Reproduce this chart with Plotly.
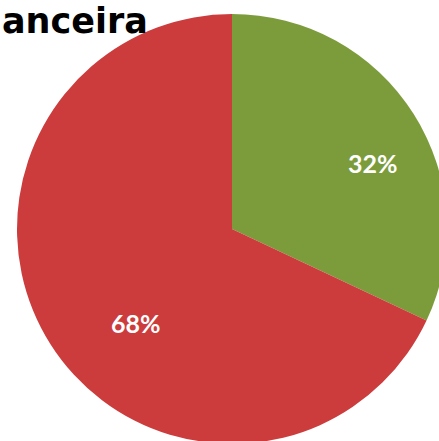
import plotly.graph_objects as go

labels = ["Sim", "Não"]
values = [32, 68]
colors = ["#7c9c3c", "#cc3c3c"]
title_text = "anceira"

fig = go.Figure(go.Pie(
    labels=labels,
    values=values,
    sort=False,
    direction="clockwise",
    rotation=0,
    marker=dict(colors=colors, line=dict(width=0)),
    textinfo="none",
    showlegend=False,
    hoverinfo="skip",
    domain=dict(x=[17 / 447, 1.0], y=[1 / 445, 1 - 14 / 445]),
))

total = sum(values)
label_pos = [(0.835, 0.634), (0.305, 0.274)]
for v, (px, py) in zip(values, label_pos):
    fig.add_annotation(
        text=f"{round(100 * v / total)}%", x=px, y=py, xref="paper", yref="paper",
        xanchor="center", yanchor="middle", showarrow=False,
        font=dict(family="Lato", size=25, color="white", weight="bold"),
    )

fig.add_annotation(
    text=title_text, x=0, y=1, xref="paper", yref="paper",
    xanchor="left", yanchor="top", showarrow=False,
    font=dict(family="DejaVu Sans", size=35, color="black", weight="bold"),
    xshift=0, yshift=1,
)

fig.update_layout(
    width=447, height=445,
    margin=dict(l=0, r=0, t=0, b=0),
    paper_bgcolor="white",
    plot_bgcolor="white",
)

fig.write_html("out.html", config={"displayModeBar": False},
               post_script="document.body.style.margin='0';")
